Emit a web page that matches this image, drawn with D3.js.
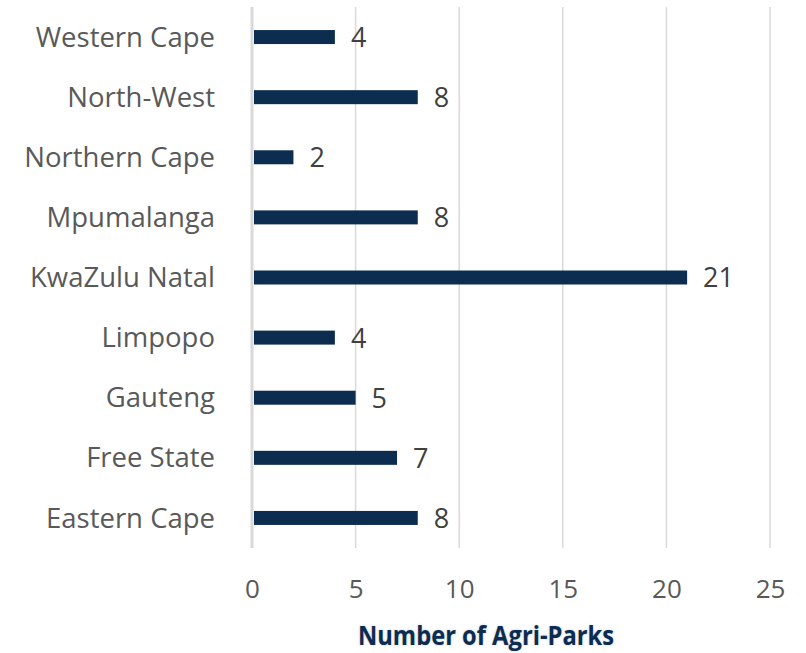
<!DOCTYPE html>
<html>
<head>
<meta charset="utf-8">
<script src="https://cdn.jsdelivr.net/npm/d3@7"></script>
<style>
  body { margin: 0; background: #fff; }
  svg text { font-family: "Open Sans", sans-serif; }
</style>
</head>
<body>
<div id="chart"></div>
<script>
// chart data
const PROVINCES = ["Western Cape", "North-West", "Northern Cape", "Mpumalanga", "KwaZulu Natal",
                   "Limpopo", "Gauteng", "Free State", "Eastern Cape"];
const PARKS = [4, 8, 2, 8, 21, 4, 5, 7, 8];
const X_TICKS = [0, 5, 10, 15, 20, 25];
const X_TITLE = "Number of Agri-Parks";

const FRAME_WIDTH = 806;
const FRAME_HEIGHT = 653;
const MARGINS = {left: 252, right: 36, top: 7, bottom: 105};

const VIS_WIDTH = FRAME_WIDTH - MARGINS.left - MARGINS.right;
const VIS_HEIGHT = FRAME_HEIGHT - MARGINS.top - MARGINS.bottom;

const svg = d3.select("#chart")
              .append("svg")
                .attr("width", FRAME_WIDTH)
                .attr("height", FRAME_HEIGHT);

const g = svg.append("g")
             .attr("transform", "translate(" + MARGINS.left + "," + MARGINS.top + ")");

const x = d3.scaleLinear()
            .domain([0, 25])
            .range([0, VIS_WIDTH]);

const y = d3.scaleBand()
            .domain(PROVINCES)
            .range([0, VIS_HEIGHT]);

// vertical gridlines
g.append("g")
  .selectAll("line")
  .data(X_TICKS.slice(1))
  .enter()
  .append("line")
    .attr("x1", (d) => x(d))
    .attr("x2", (d) => x(d))
    .attr("y1", 0)
    .attr("y2", VIS_HEIGHT)
    .attr("stroke", "#d9d9d9")
    .attr("stroke-width", 1.5);

// value axis line at 0
g.append("line")
  .attr("x1", x(0)).attr("x2", x(0))
  .attr("y1", 0).attr("y2", VIS_HEIGHT)
  .attr("stroke", "#d9d9d9")
  .attr("stroke-width", 3);

// x tick labels
const xAxis = g.append("g")
  .attr("transform", "translate(0," + VIS_HEIGHT + ")")
  .call(d3.axisBottom(x).tickValues(X_TICKS).tickSize(0).tickPadding(32));
xAxis.select(".domain").remove();
xAxis.selectAll("text")
  .attr("fill", "#595959")
  .attr("font-family", "'Open Sans', sans-serif")
  .attr("font-size", 26);

// category labels
g.append("g")
  .selectAll("text")
  .data(PROVINCES)
  .enter()
  .append("text")
    .attr("x", -37)
    .attr("y", (d) => y(d) + y.bandwidth() / 2)
    .attr("dy", "0.35em")
    .attr("text-anchor", "end")
    .attr("fill", "#595959")
    .attr("font-size", 27.5)
    .text((d) => d);

// bars
const BAR_H = 14;
g.append("g")
  .selectAll("rect")
  .data(PARKS)
  .enter()
  .append("rect")
    .attr("x", x(0) + 2)
    .attr("y", (d, i) => y(PROVINCES[i]) + y.bandwidth() / 2 - BAR_H / 2)
    .attr("width", (d) => x(d) - x(0) - 2)
    .attr("height", BAR_H)
    .attr("fill", "#0c2d50");

// value labels
g.append("g")
  .selectAll("text")
  .data(PARKS)
  .enter()
  .append("text")
    .attr("x", (d) => x(d) + 16)
    .attr("y", (d, i) => y(PROVINCES[i]) + y.bandwidth() / 2)
    .attr("dy", "0.37em")
    .attr("fill", "#404040")
    .attr("font-size", 27)
    .text((d) => d);

// axis title
svg.append("text")
  .attr("x", 486)
  .attr("y", 645)
  .attr("text-anchor", "middle")
  .attr("fill", "#0c2d50")
  .attr("font-size", 27)
  .attr("font-weight", "bold")
  .attr("textLength", 256)
  .attr("lengthAdjust", "spacingAndGlyphs")
  .style("text-shadow", "0 0 3px #c8d0da")
  .text(X_TITLE);
</script>
</body>
</html>
